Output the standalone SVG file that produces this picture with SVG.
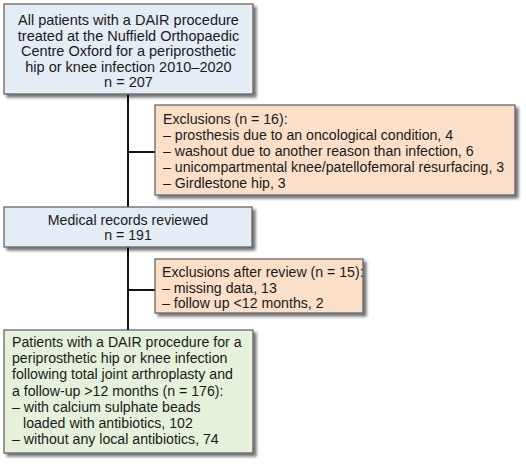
<svg xmlns="http://www.w3.org/2000/svg" width="526" height="466" viewBox="0 0 526 466">
<defs>
<filter id="sh" x="-10%" y="-10%" width="130%" height="140%">
<feGaussianBlur in="SourceAlpha" stdDeviation="1.5"/>
<feOffset dx="3" dy="3" result="b"/>
<feComponentTransfer><feFuncA type="linear" slope="0.55"/></feComponentTransfer>
<feMerge><feMergeNode/><feMergeNode in="SourceGraphic"/></feMerge>
</filter>
<style>
.box{stroke:#5a5a5a;stroke-width:1.2;filter:url(#sh)}
.blue{fill:#e4ecf6}
.peach{fill:#fbdfc9}
.green{fill:#e5f1da}
text{font-family:"Liberation Sans",Arial,sans-serif;font-size:14.15px;fill:#1a1a1a}
.big{font-size:14.5px}
.c{text-anchor:middle}
.conn{stroke:#111;stroke-width:2;fill:none}
</style>
</defs>
<rect width="526" height="466" fill="#fff"/>
<g id="connectors">
<line class="conn" x1="128" y1="94" x2="128" y2="330"/>
<line class="conn" x1="128" y1="152" x2="155" y2="152"/>
<line class="conn" x1="128" y1="290" x2="155" y2="290"/>
</g>
<g id="n1">
<rect class="box blue" x="4" y="4" width="249" height="90"/>
<text class="c big" x="128.5" y="25">All patients with a DAIR procedure</text>
<text class="c big" x="128.5" y="40.5">treated at the Nuffield Orthopaedic</text>
<text class="c big" x="128.5" y="56">Centre Oxford for a periprosthetic</text>
<text class="c big" x="128.5" y="71.5">hip or knee infection 2010–2020</text>
<text class="c big" x="128.5" y="87">n = 207</text>
</g>
<g id="n2">
<rect class="box peach" x="155" y="105" width="360" height="90"/>
<text x="163" y="124">Exclusions (n = 16):</text>
<text x="163" y="140">– prosthesis due to an oncological condition, 4</text>
<text x="163" y="156">– washout due to another reason than infection, 6</text>
<text x="163" y="172">– unicompartmental knee/patellofemoral resurfacing, 3</text>
<text x="163" y="188">– Girdlestone hip, 3</text>
</g>
<g id="n3">
<rect class="box blue" x="4" y="207" width="248" height="40"/>
<text class="c" x="128" y="225">Medical records reviewed</text>
<text class="c" x="128" y="240">n = 191</text>
</g>
<g id="n4">
<rect class="box peach" x="155" y="259" width="208" height="54"/>
<text x="162" y="277">Exclusions after review (n = 15):</text>
<text x="162" y="292.5">– missing data, 13</text>
<text x="162" y="308">– follow up &lt;12 months, 2</text>
</g>
<g id="n5">
<rect class="box green" x="4" y="330" width="249" height="123"/>
<text x="12" y="347">Patients with a DAIR procedure for a</text>
<text x="12" y="363">periprosthetic hip or knee infection</text>
<text x="12" y="379">following total joint arthroplasty and</text>
<text x="12" y="395.5">a follow-up &gt;12 months (n = 176):</text>
<text x="12" y="412">– with calcium sulphate beads</text>
<text x="23" y="428">loaded with antibiotics, 102</text>
<text x="12" y="444">– without any local antibiotics, 74</text>
</g>
</svg>
